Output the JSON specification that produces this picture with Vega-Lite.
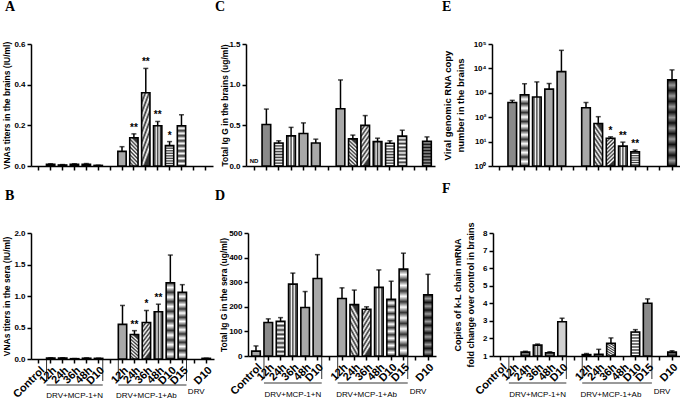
{
"$schema":"https://vega.github.io/schema/vega-lite/v6.json",
"background":"white",
"padding":{"left":1,"top":0,"right":0,"bottom":0},
"config":{
 "view":{"stroke":null},
 "font":"Liberation Sans",
 "axis":{"domainColor":"black","domainWidth":1.5,"tickColor":"black","tickWidth":1.5,"tickSize":4,"labelColor":"black","labelFont":"Liberation Sans","labelFontWeight":"bold","labelFontSize":8,"titleFont":"Liberation Sans","titleFontWeight":"bold","titleColor":"black","grid":false,"labelPadding":2,"labelOverlap":false,"labelSeparation":0,"labelBound":false,"labelFlush":false},
 "title":{"font":"Liberation Serif","fontSize":14,"fontWeight":"bold","anchor":"start","color":"black","frame":"group"},
 "text":{"font":"Liberation Sans","color":"black","fill":"black"}
},
"datasets":{
 "bars":[
  {"panel":"A","slot":"12h_N","v":0.008,"hi":0.011},
  {"panel":"A","slot":"24h_N","v":0.005,"hi":0.007},
  {"panel":"A","slot":"36h_N","v":0.008,"hi":0.011},
  {"panel":"A","slot":"48h_N","v":0.008,"hi":0.012},
  {"panel":"A","slot":"D10_N","v":0.003,"hi":0.004},
  {"panel":"A","slot":"12h_A","v":0.072,"hi":0.095},
  {"panel":"A","slot":"24h_A","v":0.139,"hi":0.158,"sig":"**"},
  {"panel":"A","slot":"36h_A","v":0.36,"hi":0.48,"sig":"**"},
  {"panel":"A","slot":"48h_A","v":0.198,"hi":0.219,"sig":"**"},
  {"panel":"A","slot":"D10_A","v":0.1,"hi":0.12,"sig":"*"},
  {"panel":"A","slot":"D15_A","v":0.198,"hi":0.252},
  {"panel":"B","slot":"12h_N","v":0.015,"hi":0.02},
  {"panel":"B","slot":"24h_N","v":0.015,"hi":0.02},
  {"panel":"B","slot":"36h_N","v":0.005,"hi":0.007},
  {"panel":"B","slot":"48h_N","v":0.012,"hi":0.018},
  {"panel":"B","slot":"D10_N","v":0.01,"hi":0.013},
  {"panel":"B","slot":"12h_A","v":0.55,"hi":0.85},
  {"panel":"B","slot":"24h_A","v":0.39,"hi":0.45,"sig":"**"},
  {"panel":"B","slot":"36h_A","v":0.58,"hi":0.77,"sig":"*"},
  {"panel":"B","slot":"48h_A","v":0.75,"hi":0.87,"sig":"**"},
  {"panel":"B","slot":"D10_A","v":1.21,"hi":1.65},
  {"panel":"B","slot":"D15_A","v":1.06,"hi":1.18},
  {"panel":"B","slot":"D10_R","v":0.01,"hi":0.013},
  {"panel":"C","slot":"12h_N","v":0.51,"hi":0.7},
  {"panel":"C","slot":"24h_N","v":0.283,"hi":0.31},
  {"panel":"C","slot":"36h_N","v":0.37,"hi":0.475},
  {"panel":"C","slot":"48h_N","v":0.4,"hi":0.53},
  {"panel":"C","slot":"D10_N","v":0.283,"hi":0.33},
  {"panel":"C","slot":"12h_A","v":0.704,"hi":1.058},
  {"panel":"C","slot":"24h_A","v":0.333,"hi":0.38},
  {"panel":"C","slot":"36h_A","v":0.5,"hi":0.62},
  {"panel":"C","slot":"48h_A","v":0.3,"hi":0.342},
  {"panel":"C","slot":"D10_A","v":0.28,"hi":0.31},
  {"panel":"C","slot":"D15_A","v":0.367,"hi":0.44},
  {"panel":"C","slot":"D10_R","v":0.304,"hi":0.358},
  {"panel":"D","slot":"Control_","v":20,"hi":41},
  {"panel":"D","slot":"12h_N","v":136,"hi":151},
  {"panel":"D","slot":"24h_N","v":141,"hi":156},
  {"panel":"D","slot":"36h_N","v":292,"hi":337},
  {"panel":"D","slot":"48h_N","v":197,"hi":262},
  {"panel":"D","slot":"D10_N","v":315,"hi":412},
  {"panel":"D","slot":"12h_A","v":234,"hi":277},
  {"panel":"D","slot":"24h_A","v":209,"hi":268},
  {"panel":"D","slot":"36h_A","v":190,"hi":200},
  {"panel":"D","slot":"48h_A","v":279,"hi":350},
  {"panel":"D","slot":"D10_A","v":230,"hi":304},
  {"panel":"D","slot":"D15_A","v":353,"hi":418},
  {"panel":"D","slot":"D10_R","v":249,"hi":332},
  {"panel":"E","slot":"12h_N","v":400,"hi":490},
  {"panel":"E","slot":"24h_N","v":830,"hi":2350},
  {"panel":"E","slot":"36h_N","v":670,"hi":2800},
  {"panel":"E","slot":"48h_N","v":1420,"hi":2400},
  {"panel":"E","slot":"D10_N","v":7400,"hi":55000},
  {"panel":"E","slot":"12h_A","v":245,"hi":400},
  {"panel":"E","slot":"24h_A","v":55,"hi":105},
  {"panel":"E","slot":"36h_A","v":13.8,"hi":15.7,"sig":"*"},
  {"panel":"E","slot":"48h_A","v":6.5,"hi":9.5,"sig":"**"},
  {"panel":"E","slot":"D10_A","v":3.8,"hi":4.5,"sig":"**"},
  {"panel":"E","slot":"D10_R","v":3400,"hi":8700},
  {"panel":"F","slot":"24h_N","v":1.22,"hi":1.27},
  {"panel":"F","slot":"36h_N","v":1.62,"hi":1.68},
  {"panel":"F","slot":"48h_N","v":1.18,"hi":1.24},
  {"panel":"F","slot":"D10_N","v":2.95,"hi":3.15},
  {"panel":"F","slot":"12h_A","v":1.08,"hi":1.14},
  {"panel":"F","slot":"24h_A","v":1.1,"hi":1.38},
  {"panel":"F","slot":"36h_A","v":1.72,"hi":2.03},
  {"panel":"F","slot":"D10_A","v":2.37,"hi":2.5},
  {"panel":"F","slot":"D15_A","v":4.0,"hi":4.25},
  {"panel":"F","slot":"D10_R","v":1.22,"hi":1.3}
 ],
 "groups":[
  {"grp":"DRV+MCP-1+N","from":"12h_N","to":"D10_N","mid":"36h_N"},
  {"grp":"DRV+MCP-1+Ab","from":"12h_A","to":"D15_A","mid":"36h_A"},
  {"grp":"DRV","mid":"D10_R"}
 ],
 "notes":[{"panel":"C","slot":"Control_","note":"ND"}]
},
"bounds":"flush",
"spacing":189,
"vconcat":[
 {"bounds":"flush","spacing":33,"hconcat":[
  {"width":182,"height":122,
   "title":{"text":"A","dx":-26,"offset":26},
   "data":{"name":"bars"},
   "transform":[{"filter":"datum.panel==='A'"}],
   "encoding":{"x":{"field":"slot","type":"nominal","scale":{"domain":["Control_","12h_N","24h_N","36h_N","48h_N","D10_N","_g1","12h_A","24h_A","36h_A","48h_A","D10_A","D15_A","_g2","D10_R"],"paddingInner":0.3,"paddingOuter":0.3},"axis":{"labels":false,"title":null}}},
   "layer":[
    {"mark":{"type":"bar","stroke":"black","strokeWidth":1.6},
     "encoding":{"y":{"field":"v","type":"quantitative","scale":{"domain":[0,0.6],"nice":false},"axis":{"tickCount":4,"labelExpr":"format(datum.value,'.1f')","labelOverlap":false,"labelFlush":false,"title":"VNAs titers in the brains (IU/ml)","titleFontSize":8.5,"titleX":-20}},
      "fill":{"condition":[
       {"test":"indexof(['24h_N','D10_A','D15_A'],datum.slot)>=0","value":{"gradient":"linear","x1":0,"y1":0,"x2":0,"y2":1,"stops":[{"offset":0,"color":"#333"},{"offset":0.0625,"color":"#fff"},{"offset":0.125,"color":"#333"},{"offset":0.1875,"color":"#fff"},{"offset":0.25,"color":"#333"},{"offset":0.3125,"color":"#fff"},{"offset":0.375,"color":"#333"},{"offset":0.4375,"color":"#fff"},{"offset":0.5,"color":"#333"},{"offset":0.5625,"color":"#fff"},{"offset":0.625,"color":"#333"},{"offset":0.6875,"color":"#fff"},{"offset":0.75,"color":"#333"},{"offset":0.8125,"color":"#fff"},{"offset":0.875,"color":"#333"},{"offset":0.9375,"color":"#fff"},{"offset":1,"color":"#333"}]}},
       {"test":"indexof(['36h_N','48h_A'],datum.slot)>=0","value":{"gradient":"linear","x1":0,"y1":0,"x2":1,"y2":0,"stops":[{"offset":0,"color":"#fff"},{"offset":0.1667,"color":"#333"},{"offset":0.3333,"color":"#fff"},{"offset":0.5,"color":"#333"},{"offset":0.6667,"color":"#fff"},{"offset":0.8333,"color":"#333"},{"offset":1,"color":"#fff"}]}},
       {"test":"datum.slot==='36h_A'","value":{"gradient":"linear","x1":0,"y1":0,"x2":0.3,"y2":1,"stops":[{"offset":0,"color":"#333"},{"offset":0.0625,"color":"#fff"},{"offset":0.125,"color":"#333"},{"offset":0.1875,"color":"#fff"},{"offset":0.25,"color":"#333"},{"offset":0.3125,"color":"#fff"},{"offset":0.375,"color":"#333"},{"offset":0.4375,"color":"#fff"},{"offset":0.5,"color":"#333"},{"offset":0.5625,"color":"#fff"},{"offset":0.625,"color":"#333"},{"offset":0.6875,"color":"#fff"},{"offset":0.75,"color":"#333"},{"offset":0.8125,"color":"#fff"},{"offset":0.875,"color":"#333"},{"offset":0.9375,"color":"#fff"},{"offset":1,"color":"#333"}]}},
       {"test":"datum.slot==='24h_A'","value":{"gradient":"linear","x1":0.3,"y1":0,"x2":0,"y2":1,"stops":[{"offset":0,"color":"#333"},{"offset":0.0625,"color":"#fff"},{"offset":0.125,"color":"#333"},{"offset":0.1875,"color":"#fff"},{"offset":0.25,"color":"#333"},{"offset":0.3125,"color":"#fff"},{"offset":0.375,"color":"#333"},{"offset":0.4375,"color":"#fff"},{"offset":0.5,"color":"#333"},{"offset":0.5625,"color":"#fff"},{"offset":0.625,"color":"#333"},{"offset":0.6875,"color":"#fff"},{"offset":0.75,"color":"#333"},{"offset":0.8125,"color":"#fff"},{"offset":0.875,"color":"#333"},{"offset":0.9375,"color":"#fff"},{"offset":1,"color":"#333"}]}},
       {"test":"datum.slot==='12h_N'","value":"#8a8a8a"}],
      "value":"#a8a8a8"}}},
    {"mark":{"type":"rule","color":"black","strokeWidth":1.5},
     "encoding":{"y":{"field":"v","type":"quantitative","scale":{"domain":[0,0.6],"nice":false}},"y2":{"field":"hi"}}},
    {"mark":{"type":"tick","color":"black","thickness":1.5,"size":5},
     "encoding":{"y":{"field":"hi","type":"quantitative","scale":{"domain":[0,0.6],"nice":false}}}},
    {"transform":[{"filter":"datum.sig"}],
     "mark":{"type":"text","dy":-3,"baseline":"alphabetic","fontSize":10,"fontWeight":"bold","fill":"black"},
     "encoding":{"y":{"field":"hi","type":"quantitative","scale":{"domain":[0,0.6],"nice":false}},"text":{"field":"sig"}}}
   ]},
  {"bounds":"flush","spacing":57,"hconcat":[
   {"width":189,"height":122,
    "title":{"text":"C","dx":-31,"offset":26},
    "data":{"name":"bars"},
    "transform":[{"filter":"datum.panel==='C'"}],
    "encoding":{"x":{"field":"slot","type":"nominal","scale":{"domain":["Control_","12h_N","24h_N","36h_N","48h_N","D10_N","_g1","12h_A","24h_A","36h_A","48h_A","D10_A","D15_A","_g2","D10_R"],"paddingInner":0.3,"paddingOuter":0.3},"axis":{"labels":false,"title":null}}},
    "layer":[
     {"mark":{"type":"bar","stroke":"black","strokeWidth":1.6},
      "encoding":{"y":{"field":"v","type":"quantitative","scale":{"domain":[0,1.5],"nice":false},"axis":{"tickCount":4,"format":".1f","labelOverlap":false,"title":"Total Ig G in the brains (ug/ml)","titleFontSize":8.5,"titleX":-17}},
       "fill":{"condition":[
        {"test":"indexof(['24h_N','D10_A','D15_A'],datum.slot)>=0","value":{"gradient":"linear","x1":0,"y1":0,"x2":0,"y2":1,"stops":[{"offset":0,"color":"#333"},{"offset":0.0625,"color":"#fff"},{"offset":0.125,"color":"#333"},{"offset":0.1875,"color":"#fff"},{"offset":0.25,"color":"#333"},{"offset":0.3125,"color":"#fff"},{"offset":0.375,"color":"#333"},{"offset":0.4375,"color":"#fff"},{"offset":0.5,"color":"#333"},{"offset":0.5625,"color":"#fff"},{"offset":0.625,"color":"#333"},{"offset":0.6875,"color":"#fff"},{"offset":0.75,"color":"#333"},{"offset":0.8125,"color":"#fff"},{"offset":0.875,"color":"#333"},{"offset":0.9375,"color":"#fff"},{"offset":1,"color":"#333"}]}},
        {"test":"indexof(['36h_N','48h_A'],datum.slot)>=0","value":{"gradient":"linear","x1":0,"y1":0,"x2":1,"y2":0,"stops":[{"offset":0,"color":"#fff"},{"offset":0.1667,"color":"#333"},{"offset":0.3333,"color":"#fff"},{"offset":0.5,"color":"#333"},{"offset":0.6667,"color":"#fff"},{"offset":0.8333,"color":"#333"},{"offset":1,"color":"#fff"}]}},
        {"test":"datum.slot==='36h_A'","value":{"gradient":"linear","x1":0,"y1":0,"x2":0.3,"y2":1,"stops":[{"offset":0,"color":"#333"},{"offset":0.0625,"color":"#fff"},{"offset":0.125,"color":"#333"},{"offset":0.1875,"color":"#fff"},{"offset":0.25,"color":"#333"},{"offset":0.3125,"color":"#fff"},{"offset":0.375,"color":"#333"},{"offset":0.4375,"color":"#fff"},{"offset":0.5,"color":"#333"},{"offset":0.5625,"color":"#fff"},{"offset":0.625,"color":"#333"},{"offset":0.6875,"color":"#fff"},{"offset":0.75,"color":"#333"},{"offset":0.8125,"color":"#fff"},{"offset":0.875,"color":"#333"},{"offset":0.9375,"color":"#fff"},{"offset":1,"color":"#333"}]}},
        {"test":"datum.slot==='24h_A'","value":{"gradient":"linear","x1":0.3,"y1":0,"x2":0,"y2":1,"stops":[{"offset":0,"color":"#333"},{"offset":0.0625,"color":"#fff"},{"offset":0.125,"color":"#333"},{"offset":0.1875,"color":"#fff"},{"offset":0.25,"color":"#333"},{"offset":0.3125,"color":"#fff"},{"offset":0.375,"color":"#333"},{"offset":0.4375,"color":"#fff"},{"offset":0.5,"color":"#333"},{"offset":0.5625,"color":"#fff"},{"offset":0.625,"color":"#333"},{"offset":0.6875,"color":"#fff"},{"offset":0.75,"color":"#333"},{"offset":0.8125,"color":"#fff"},{"offset":0.875,"color":"#333"},{"offset":0.9375,"color":"#fff"},{"offset":1,"color":"#333"}]}},
        {"test":"datum.slot==='D10_R'","value":{"gradient":"linear","x1":0,"y1":0,"x2":0,"y2":1,"stops":[{"offset":0,"color":"#111"},{"offset":0.0625,"color":"#999"},{"offset":0.125,"color":"#111"},{"offset":0.1875,"color":"#999"},{"offset":0.25,"color":"#111"},{"offset":0.3125,"color":"#999"},{"offset":0.375,"color":"#111"},{"offset":0.4375,"color":"#999"},{"offset":0.5,"color":"#111"},{"offset":0.5625,"color":"#999"},{"offset":0.625,"color":"#111"},{"offset":0.6875,"color":"#999"},{"offset":0.75,"color":"#111"},{"offset":0.8125,"color":"#999"},{"offset":0.875,"color":"#111"},{"offset":0.9375,"color":"#999"},{"offset":1,"color":"#111"}]}},
        {"test":"datum.slot==='12h_N'","value":"#8a8a8a"}],
       "value":"#a8a8a8"}}},
     {"mark":{"type":"rule","color":"black","strokeWidth":1.5},
      "encoding":{"y":{"field":"v","type":"quantitative","scale":{"domain":[0,1.5],"nice":false}},"y2":{"field":"hi"}}},
     {"mark":{"type":"tick","color":"black","thickness":1.5,"size":5},
      "encoding":{"y":{"field":"hi","type":"quantitative","scale":{"domain":[0,1.5],"nice":false}}}},
     {"data":{"name":"notes"},
      "mark":{"type":"text","fontSize":6,"fontWeight":"bold","baseline":"bottom","dy":-2,"fill":"black"},
      "encoding":{"x":{"field":"slot","type":"nominal","scale":{"domain":["Control_","12h_N","24h_N","36h_N","48h_N","D10_N","_g1","12h_A","24h_A","36h_A","48h_A","D10_A","D15_A","_g2","D10_R"],"paddingInner":0.3,"paddingOuter":0.3}},"y":{"datum":0,"type":"quantitative","scale":{"domain":[0,1.5],"nice":false}},"text":{"field":"note"}}}
    ]},
   {"width":188,"height":122,
    "title":{"text":"E","dx":-50,"offset":26},
    "data":{"name":"bars"},
    "transform":[{"filter":"datum.panel==='E'"}],
    "encoding":{"x":{"field":"slot","type":"nominal","scale":{"domain":["Control_","12h_N","24h_N","36h_N","48h_N","D10_N","_g1","12h_A","24h_A","36h_A","48h_A","D10_A","D15_A","_g2","D10_R"],"paddingInner":0.3,"paddingOuter":0.3},"axis":{"labels":false,"title":null}}},
    "layer":[
     {"mark":{"type":"bar","stroke":"black","strokeWidth":1.6},
      "encoding":{"y":{"field":"v","type":"quantitative","scale":{"type":"log","domain":[1,100000],"nice":false},"axis":{"values":[1,10,100,1000,10000,100000],"labelOverlap":false,"labelExpr":"'10' + ['⁰','¹','²','³','⁴','⁵'][round(log(datum.value)/LN10)]","title":["Viral  genomic RNA copy","number in the brains"],"titleFontSize":9.5,"titleX":-40,"titleLineHeight":13}},
       "y2":{"datum":1},
       "fill":{"condition":[
        {"test":"indexof(['24h_N','D10_A','D15_A'],datum.slot)>=0","value":{"gradient":"linear","x1":0,"y1":0,"x2":0,"y2":1,"stops":[{"offset":0,"color":"#333"},{"offset":0.0625,"color":"#fff"},{"offset":0.125,"color":"#333"},{"offset":0.1875,"color":"#fff"},{"offset":0.25,"color":"#333"},{"offset":0.3125,"color":"#fff"},{"offset":0.375,"color":"#333"},{"offset":0.4375,"color":"#fff"},{"offset":0.5,"color":"#333"},{"offset":0.5625,"color":"#fff"},{"offset":0.625,"color":"#333"},{"offset":0.6875,"color":"#fff"},{"offset":0.75,"color":"#333"},{"offset":0.8125,"color":"#fff"},{"offset":0.875,"color":"#333"},{"offset":0.9375,"color":"#fff"},{"offset":1,"color":"#333"}]}},
        {"test":"indexof(['36h_N','48h_A'],datum.slot)>=0","value":{"gradient":"linear","x1":0,"y1":0,"x2":1,"y2":0,"stops":[{"offset":0,"color":"#fff"},{"offset":0.1667,"color":"#333"},{"offset":0.3333,"color":"#fff"},{"offset":0.5,"color":"#333"},{"offset":0.6667,"color":"#fff"},{"offset":0.8333,"color":"#333"},{"offset":1,"color":"#fff"}]}},
        {"test":"datum.slot==='36h_A'","value":{"gradient":"linear","x1":0,"y1":0,"x2":0.3,"y2":1,"stops":[{"offset":0,"color":"#333"},{"offset":0.0625,"color":"#fff"},{"offset":0.125,"color":"#333"},{"offset":0.1875,"color":"#fff"},{"offset":0.25,"color":"#333"},{"offset":0.3125,"color":"#fff"},{"offset":0.375,"color":"#333"},{"offset":0.4375,"color":"#fff"},{"offset":0.5,"color":"#333"},{"offset":0.5625,"color":"#fff"},{"offset":0.625,"color":"#333"},{"offset":0.6875,"color":"#fff"},{"offset":0.75,"color":"#333"},{"offset":0.8125,"color":"#fff"},{"offset":0.875,"color":"#333"},{"offset":0.9375,"color":"#fff"},{"offset":1,"color":"#333"}]}},
        {"test":"datum.slot==='24h_A'","value":{"gradient":"linear","x1":0.3,"y1":0,"x2":0,"y2":1,"stops":[{"offset":0,"color":"#333"},{"offset":0.0625,"color":"#fff"},{"offset":0.125,"color":"#333"},{"offset":0.1875,"color":"#fff"},{"offset":0.25,"color":"#333"},{"offset":0.3125,"color":"#fff"},{"offset":0.375,"color":"#333"},{"offset":0.4375,"color":"#fff"},{"offset":0.5,"color":"#333"},{"offset":0.5625,"color":"#fff"},{"offset":0.625,"color":"#333"},{"offset":0.6875,"color":"#fff"},{"offset":0.75,"color":"#333"},{"offset":0.8125,"color":"#fff"},{"offset":0.875,"color":"#333"},{"offset":0.9375,"color":"#fff"},{"offset":1,"color":"#333"}]}},
        {"test":"datum.slot==='D10_R'","value":{"gradient":"linear","x1":0,"y1":0,"x2":0,"y2":1,"stops":[{"offset":0,"color":"#111"},{"offset":0.0625,"color":"#999"},{"offset":0.125,"color":"#111"},{"offset":0.1875,"color":"#999"},{"offset":0.25,"color":"#111"},{"offset":0.3125,"color":"#999"},{"offset":0.375,"color":"#111"},{"offset":0.4375,"color":"#999"},{"offset":0.5,"color":"#111"},{"offset":0.5625,"color":"#999"},{"offset":0.625,"color":"#111"},{"offset":0.6875,"color":"#999"},{"offset":0.75,"color":"#111"},{"offset":0.8125,"color":"#999"},{"offset":0.875,"color":"#111"},{"offset":0.9375,"color":"#999"},{"offset":1,"color":"#111"}]}},
        {"test":"datum.slot==='12h_N'","value":"#8a8a8a"}],
       "value":"#a8a8a8"}}},
     {"mark":{"type":"rule","color":"black","strokeWidth":1.5},
      "encoding":{"y":{"field":"v","type":"quantitative","scale":{"type":"log","domain":[1,100000],"nice":false}},"y2":{"field":"hi"}}},
     {"mark":{"type":"tick","color":"black","thickness":1.5,"size":5},
      "encoding":{"y":{"field":"hi","type":"quantitative","scale":{"type":"log","domain":[1,100000],"nice":false}}}},
     {"transform":[{"filter":"datum.sig"}],
      "mark":{"type":"text","dy":-3,"baseline":"alphabetic","fontSize":10,"fontWeight":"bold","fill":"black"},
      "encoding":{"y":{"field":"hi","type":"quantitative","scale":{"type":"log","domain":[1,100000],"nice":false}},"text":{"field":"sig"}}}
    ]}
  ]}
 ]},
 {"bounds":"flush","spacing":34,"hconcat":[
  {"width":183,"height":126,
   "title":{"text":"B","dx":-26,"offset":26},
   "data":{"name":"bars"},
   "transform":[{"filter":"datum.panel==='B'"}],
   "encoding":{"x":{"field":"slot","type":"nominal","scale":{"domain":["Control_","12h_N","24h_N","36h_N","48h_N","D10_N","_g1","12h_A","24h_A","36h_A","48h_A","D10_A","D15_A","_g2","D10_R"],"paddingInner":0.3,"paddingOuter":0.3},"axis":{"title":null,"labelAngle":-45,"labelFontSize":11,"labelExpr":"split(datum.value,'_')[0]","labelOverlap":false,"labelPadding":1}}},
   "layer":[
    {"mark":{"type":"bar","stroke":"black","strokeWidth":1.6},
     "encoding":{"y":{"field":"v","type":"quantitative","scale":{"domain":[0,2],"nice":false},"axis":{"tickCount":5,"labelExpr":"format(datum.value,'.1f')","labelOverlap":false,"labelFlush":false,"title":"VNAs titers in the sera (IU/ml)","titleFontSize":8.5,"titleX":-20}},
      "fill":{"condition":[
       {"test":"indexof(['24h_N','D10_A','D15_A'],datum.slot)>=0","value":{"gradient":"linear","x1":0,"y1":0,"x2":0,"y2":1,"stops":[{"offset":0,"color":"#333"},{"offset":0.0625,"color":"#fff"},{"offset":0.125,"color":"#333"},{"offset":0.1875,"color":"#fff"},{"offset":0.25,"color":"#333"},{"offset":0.3125,"color":"#fff"},{"offset":0.375,"color":"#333"},{"offset":0.4375,"color":"#fff"},{"offset":0.5,"color":"#333"},{"offset":0.5625,"color":"#fff"},{"offset":0.625,"color":"#333"},{"offset":0.6875,"color":"#fff"},{"offset":0.75,"color":"#333"},{"offset":0.8125,"color":"#fff"},{"offset":0.875,"color":"#333"},{"offset":0.9375,"color":"#fff"},{"offset":1,"color":"#333"}]}},
       {"test":"indexof(['36h_N','48h_A'],datum.slot)>=0","value":{"gradient":"linear","x1":0,"y1":0,"x2":1,"y2":0,"stops":[{"offset":0,"color":"#fff"},{"offset":0.1667,"color":"#333"},{"offset":0.3333,"color":"#fff"},{"offset":0.5,"color":"#333"},{"offset":0.6667,"color":"#fff"},{"offset":0.8333,"color":"#333"},{"offset":1,"color":"#fff"}]}},
       {"test":"datum.slot==='36h_A'","value":{"gradient":"linear","x1":0,"y1":0,"x2":0.3,"y2":1,"stops":[{"offset":0,"color":"#333"},{"offset":0.0625,"color":"#fff"},{"offset":0.125,"color":"#333"},{"offset":0.1875,"color":"#fff"},{"offset":0.25,"color":"#333"},{"offset":0.3125,"color":"#fff"},{"offset":0.375,"color":"#333"},{"offset":0.4375,"color":"#fff"},{"offset":0.5,"color":"#333"},{"offset":0.5625,"color":"#fff"},{"offset":0.625,"color":"#333"},{"offset":0.6875,"color":"#fff"},{"offset":0.75,"color":"#333"},{"offset":0.8125,"color":"#fff"},{"offset":0.875,"color":"#333"},{"offset":0.9375,"color":"#fff"},{"offset":1,"color":"#333"}]}},
       {"test":"datum.slot==='24h_A'","value":{"gradient":"linear","x1":0.3,"y1":0,"x2":0,"y2":1,"stops":[{"offset":0,"color":"#333"},{"offset":0.0625,"color":"#fff"},{"offset":0.125,"color":"#333"},{"offset":0.1875,"color":"#fff"},{"offset":0.25,"color":"#333"},{"offset":0.3125,"color":"#fff"},{"offset":0.375,"color":"#333"},{"offset":0.4375,"color":"#fff"},{"offset":0.5,"color":"#333"},{"offset":0.5625,"color":"#fff"},{"offset":0.625,"color":"#333"},{"offset":0.6875,"color":"#fff"},{"offset":0.75,"color":"#333"},{"offset":0.8125,"color":"#fff"},{"offset":0.875,"color":"#333"},{"offset":0.9375,"color":"#fff"},{"offset":1,"color":"#333"}]}},
       {"test":"datum.slot==='12h_N'","value":"#8a8a8a"}],
      "value":"#a8a8a8"}}},
    {"mark":{"type":"rule","color":"black","strokeWidth":1.5},
     "encoding":{"y":{"field":"v","type":"quantitative","scale":{"domain":[0,2],"nice":false}},"y2":{"field":"hi"}}},
    {"mark":{"type":"tick","color":"black","thickness":1.5,"size":5},
     "encoding":{"y":{"field":"hi","type":"quantitative","scale":{"domain":[0,2],"nice":false}}}},
    {"transform":[{"filter":"datum.sig"}],
     "mark":{"type":"text","dy":-3,"baseline":"alphabetic","fontSize":10,"fontWeight":"bold","fill":"black"},
     "encoding":{"y":{"field":"hi","type":"quantitative","scale":{"domain":[0,2],"nice":false}},"text":{"field":"sig"}}},
    {"data":{"name":"groups"},"transform":[{"filter":"datum.from"}],
     "mark":{"type":"rule","color":"black","strokeWidth":0.8,"y":"height","yOffset":26},
     "encoding":{"x":{"field":"from","type":"nominal","bandPosition":0},"x2":{"field":"to","bandPosition":1}}},
    {"data":{"name":"groups"},"transform":[{"filter":"datum.from"}],
     "mark":{"type":"rule","color":"black","strokeWidth":0.8,"y":"height","yOffset":22,"y2":"height","y2Offset":26},
     "encoding":{"x":{"field":"from","type":"nominal","bandPosition":0}}},
    {"data":{"name":"groups"},"transform":[{"filter":"datum.from"}],
     "mark":{"type":"rule","color":"black","strokeWidth":0.8,"y":"height","yOffset":22,"y2":"height","y2Offset":26},
     "encoding":{"x":{"field":"to","type":"nominal","bandPosition":1}}},
    {"data":{"name":"groups"},"transform":[{"filter":"datum.from"}],
     "mark":{"type":"text","y":"height","yOffset":37,"fontSize":8,"baseline":"middle","fill":"black"},
     "encoding":{"x":{"field":"mid","type":"nominal"},"text":{"field":"grp"}}},
    {"data":{"name":"groups"},"transform":[{"filter":"!datum.from"}],
     "mark":{"type":"text","y":"height","yOffset":33,"dx":-10,"fontSize":8,"baseline":"middle","fill":"black"},
     "encoding":{"x":{"field":"mid","type":"nominal"},"text":{"field":"grp"}}}
   ]},
  {"bounds":"flush","spacing":57,"hconcat":[
   {"width":188,"height":123,
    "title":{"text":"D","dx":-33,"offset":26},
    "data":{"name":"bars"},
    "transform":[{"filter":"datum.panel==='D'"}],
    "encoding":{"x":{"field":"slot","type":"nominal","scale":{"domain":["Control_","12h_N","24h_N","36h_N","48h_N","D10_N","_g1","12h_A","24h_A","36h_A","48h_A","D10_A","D15_A","_g2","D10_R"],"paddingInner":0.3,"paddingOuter":0.3},"axis":{"title":null,"labelAngle":-45,"labelFontSize":11,"labelExpr":"split(datum.value,'_')[0]","labelOverlap":false,"labelPadding":1}}},
    "layer":[
     {"mark":{"type":"bar","stroke":"black","strokeWidth":1.6},
      "encoding":{"y":{"field":"v","type":"quantitative","scale":{"domain":[0,500],"nice":false},"axis":{"tickCount":6,"format":"d","labelOverlap":false,"title":"Total Ig G in the sera (ug/ml)","titleFontSize":8.5,"titleX":-20}},
       "fill":{"condition":[
        {"test":"indexof(['24h_N','D10_A','D15_A'],datum.slot)>=0","value":{"gradient":"linear","x1":0,"y1":0,"x2":0,"y2":1,"stops":[{"offset":0,"color":"#333"},{"offset":0.0625,"color":"#fff"},{"offset":0.125,"color":"#333"},{"offset":0.1875,"color":"#fff"},{"offset":0.25,"color":"#333"},{"offset":0.3125,"color":"#fff"},{"offset":0.375,"color":"#333"},{"offset":0.4375,"color":"#fff"},{"offset":0.5,"color":"#333"},{"offset":0.5625,"color":"#fff"},{"offset":0.625,"color":"#333"},{"offset":0.6875,"color":"#fff"},{"offset":0.75,"color":"#333"},{"offset":0.8125,"color":"#fff"},{"offset":0.875,"color":"#333"},{"offset":0.9375,"color":"#fff"},{"offset":1,"color":"#333"}]}},
        {"test":"indexof(['36h_N','48h_A'],datum.slot)>=0","value":{"gradient":"linear","x1":0,"y1":0,"x2":1,"y2":0,"stops":[{"offset":0,"color":"#fff"},{"offset":0.1667,"color":"#333"},{"offset":0.3333,"color":"#fff"},{"offset":0.5,"color":"#333"},{"offset":0.6667,"color":"#fff"},{"offset":0.8333,"color":"#333"},{"offset":1,"color":"#fff"}]}},
        {"test":"datum.slot==='36h_A'","value":{"gradient":"linear","x1":0,"y1":0,"x2":0.3,"y2":1,"stops":[{"offset":0,"color":"#333"},{"offset":0.0625,"color":"#fff"},{"offset":0.125,"color":"#333"},{"offset":0.1875,"color":"#fff"},{"offset":0.25,"color":"#333"},{"offset":0.3125,"color":"#fff"},{"offset":0.375,"color":"#333"},{"offset":0.4375,"color":"#fff"},{"offset":0.5,"color":"#333"},{"offset":0.5625,"color":"#fff"},{"offset":0.625,"color":"#333"},{"offset":0.6875,"color":"#fff"},{"offset":0.75,"color":"#333"},{"offset":0.8125,"color":"#fff"},{"offset":0.875,"color":"#333"},{"offset":0.9375,"color":"#fff"},{"offset":1,"color":"#333"}]}},
        {"test":"datum.slot==='24h_A'","value":{"gradient":"linear","x1":0.3,"y1":0,"x2":0,"y2":1,"stops":[{"offset":0,"color":"#333"},{"offset":0.0625,"color":"#fff"},{"offset":0.125,"color":"#333"},{"offset":0.1875,"color":"#fff"},{"offset":0.25,"color":"#333"},{"offset":0.3125,"color":"#fff"},{"offset":0.375,"color":"#333"},{"offset":0.4375,"color":"#fff"},{"offset":0.5,"color":"#333"},{"offset":0.5625,"color":"#fff"},{"offset":0.625,"color":"#333"},{"offset":0.6875,"color":"#fff"},{"offset":0.75,"color":"#333"},{"offset":0.8125,"color":"#fff"},{"offset":0.875,"color":"#333"},{"offset":0.9375,"color":"#fff"},{"offset":1,"color":"#333"}]}},
        {"test":"datum.slot==='D10_R'","value":{"gradient":"linear","x1":0,"y1":0,"x2":0,"y2":1,"stops":[{"offset":0,"color":"#111"},{"offset":0.0625,"color":"#999"},{"offset":0.125,"color":"#111"},{"offset":0.1875,"color":"#999"},{"offset":0.25,"color":"#111"},{"offset":0.3125,"color":"#999"},{"offset":0.375,"color":"#111"},{"offset":0.4375,"color":"#999"},{"offset":0.5,"color":"#111"},{"offset":0.5625,"color":"#999"},{"offset":0.625,"color":"#111"},{"offset":0.6875,"color":"#999"},{"offset":0.75,"color":"#111"},{"offset":0.8125,"color":"#999"},{"offset":0.875,"color":"#111"},{"offset":0.9375,"color":"#999"},{"offset":1,"color":"#111"}]}},
        {"test":"datum.slot==='12h_N'","value":"#8a8a8a"}],
       "value":"#a8a8a8"}}},
     {"mark":{"type":"rule","color":"black","strokeWidth":1.5},
      "encoding":{"y":{"field":"v","type":"quantitative","scale":{"domain":[0,500],"nice":false}},"y2":{"field":"hi"}}},
     {"mark":{"type":"tick","color":"black","thickness":1.5,"size":5},
      "encoding":{"y":{"field":"hi","type":"quantitative","scale":{"domain":[0,500],"nice":false}}}},
     {"data":{"name":"groups"},"transform":[{"filter":"datum.from"}],
      "mark":{"type":"rule","color":"black","strokeWidth":0.8,"y":"height","yOffset":27},
      "encoding":{"x":{"field":"from","type":"nominal","bandPosition":0},"x2":{"field":"to","bandPosition":1}}},
     {"data":{"name":"groups"},"transform":[{"filter":"datum.from"}],
      "mark":{"type":"rule","color":"black","strokeWidth":0.8,"y":"height","yOffset":23,"y2":"height","y2Offset":27},
      "encoding":{"x":{"field":"from","type":"nominal","bandPosition":0}}},
     {"data":{"name":"groups"},"transform":[{"filter":"datum.from"}],
      "mark":{"type":"rule","color":"black","strokeWidth":0.8,"y":"height","yOffset":23,"y2":"height","y2Offset":27},
      "encoding":{"x":{"field":"to","type":"nominal","bandPosition":1}}},
     {"data":{"name":"groups"},"transform":[{"filter":"datum.from"}],
      "mark":{"type":"text","y":"height","yOffset":39,"fontSize":8,"baseline":"middle","fill":"black"},
      "encoding":{"x":{"field":"mid","type":"nominal"},"text":{"field":"grp"}}},
     {"data":{"name":"groups"},"transform":[{"filter":"!datum.from"}],
      "mark":{"type":"text","y":"height","yOffset":36,"dx":-10,"fontSize":8,"baseline":"middle","fill":"black"},
      "encoding":{"x":{"field":"mid","type":"nominal"},"text":{"field":"grp"}}}
    ]},
   {"width":187,"height":123,
    "title":{"text":"F","dx":-51,"offset":26},
    "data":{"name":"bars"},
    "transform":[{"filter":"datum.panel==='F'"}],
    "encoding":{"x":{"field":"slot","type":"nominal","scale":{"domain":["Control_","12h_N","24h_N","36h_N","48h_N","D10_N","_g1","12h_A","24h_A","36h_A","48h_A","D10_A","D15_A","_g2","D10_R"],"paddingInner":0.3,"paddingOuter":0.3},"axis":{"title":null,"labelAngle":-45,"labelFontSize":11,"labelExpr":"split(datum.value,'_')[0]","labelOverlap":false,"labelPadding":1}}},
    "layer":[
     {"mark":{"type":"bar","stroke":"black","strokeWidth":1.6},
      "encoding":{"y":{"field":"v","type":"quantitative","scale":{"domain":[1,8],"nice":false,"zero":false},"axis":{"tickCount":8,"format":"d","labelOverlap":false,"title":["Copies of k-L chain mRNA","fold change over control in brains"],"titleFontSize":9,"titleX":-31,"titleLineHeight":13}},
       "y2":{"datum":1},
       "fill":{"condition":[
        {"test":"indexof(['24h_N','48h_N','D10_A'],datum.slot)>=0","value":{"gradient":"linear","x1":0,"y1":0,"x2":0,"y2":1,"stops":[{"offset":0,"color":"#333"},{"offset":0.0625,"color":"#fff"},{"offset":0.125,"color":"#333"},{"offset":0.1875,"color":"#fff"},{"offset":0.25,"color":"#333"},{"offset":0.3125,"color":"#fff"},{"offset":0.375,"color":"#333"},{"offset":0.4375,"color":"#fff"},{"offset":0.5,"color":"#333"},{"offset":0.5625,"color":"#fff"},{"offset":0.625,"color":"#333"},{"offset":0.6875,"color":"#fff"},{"offset":0.75,"color":"#333"},{"offset":0.8125,"color":"#fff"},{"offset":0.875,"color":"#333"},{"offset":0.9375,"color":"#fff"},{"offset":1,"color":"#333"}]}},
        {"test":"indexof(['36h_N'],datum.slot)>=0","value":{"gradient":"linear","x1":0,"y1":0,"x2":1,"y2":0,"stops":[{"offset":0,"color":"#fff"},{"offset":0.1667,"color":"#333"},{"offset":0.3333,"color":"#fff"},{"offset":0.5,"color":"#333"},{"offset":0.6667,"color":"#fff"},{"offset":0.8333,"color":"#333"},{"offset":1,"color":"#fff"}]}},
        {"test":"datum.slot==='36h_A'","value":{"gradient":"linear","x1":0,"y1":0,"x2":0.3,"y2":1,"stops":[{"offset":0,"color":"#333"},{"offset":0.0625,"color":"#fff"},{"offset":0.125,"color":"#333"},{"offset":0.1875,"color":"#fff"},{"offset":0.25,"color":"#333"},{"offset":0.3125,"color":"#fff"},{"offset":0.375,"color":"#333"},{"offset":0.4375,"color":"#fff"},{"offset":0.5,"color":"#333"},{"offset":0.5625,"color":"#fff"},{"offset":0.625,"color":"#333"},{"offset":0.6875,"color":"#fff"},{"offset":0.75,"color":"#333"},{"offset":0.8125,"color":"#fff"},{"offset":0.875,"color":"#333"},{"offset":0.9375,"color":"#fff"},{"offset":1,"color":"#333"}]}},
        {"test":"datum.slot==='D10_R'","value":{"gradient":"linear","x1":0,"y1":0,"x2":0,"y2":1,"stops":[{"offset":0,"color":"#111"},{"offset":0.25,"color":"#999"},{"offset":0.5,"color":"#111"},{"offset":0.75,"color":"#999"},{"offset":1,"color":"#111"}]}},
        {"test":"datum.slot==='D15_A'","value":"#8a8a8a"}],
       "value":"#d0d0d0"}}},
     {"mark":{"type":"rule","color":"black","strokeWidth":1.5},
      "encoding":{"y":{"field":"v","type":"quantitative","scale":{"domain":[1,8],"nice":false,"zero":false}},"y2":{"field":"hi"}}},
     {"mark":{"type":"tick","color":"black","thickness":1.5,"size":5},
      "encoding":{"y":{"field":"hi","type":"quantitative","scale":{"domain":[1,8],"nice":false,"zero":false}}}},
     {"data":{"name":"groups"},"transform":[{"filter":"datum.from"}],
      "mark":{"type":"rule","color":"black","strokeWidth":0.8,"y":"height","yOffset":27},
      "encoding":{"x":{"field":"from","type":"nominal","bandPosition":0},"x2":{"field":"to","bandPosition":1}}},
     {"data":{"name":"groups"},"transform":[{"filter":"datum.from"}],
      "mark":{"type":"rule","color":"black","strokeWidth":0.8,"y":"height","yOffset":23,"y2":"height","y2Offset":27},
      "encoding":{"x":{"field":"from","type":"nominal","bandPosition":0}}},
     {"data":{"name":"groups"},"transform":[{"filter":"datum.from"}],
      "mark":{"type":"rule","color":"black","strokeWidth":0.8,"y":"height","yOffset":23,"y2":"height","y2Offset":27},
      "encoding":{"x":{"field":"to","type":"nominal","bandPosition":1}}},
     {"data":{"name":"groups"},"transform":[{"filter":"datum.from"}],
      "mark":{"type":"text","y":"height","yOffset":39,"fontSize":8,"baseline":"middle","fill":"black"},
      "encoding":{"x":{"field":"mid","type":"nominal"},"text":{"field":"grp"}}},
     {"data":{"name":"groups"},"transform":[{"filter":"!datum.from"}],
      "mark":{"type":"text","y":"height","yOffset":36,"dx":-10,"fontSize":8,"baseline":"middle","fill":"black"},
      "encoding":{"x":{"field":"mid","type":"nominal"},"text":{"field":"grp"}}}
    ]}
  ]}
 ]}
]
}
